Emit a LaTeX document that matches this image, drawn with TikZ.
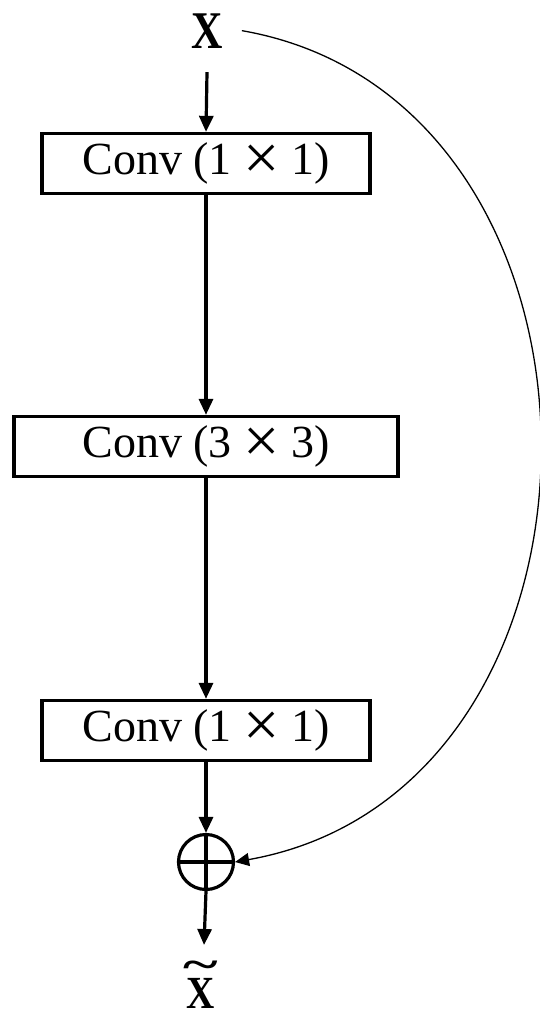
\documentclass[tikz,border=0pt]{standalone}
\usepackage{fontspec}
\usepackage{calc}
\setmainfont{Liberation Serif}
\usetikzlibrary{arrows.meta}
\newcommand{\bigtimes}{\raisebox{-4.5pt}{\scalebox{1.4}{×}}}
\newcommand{\widetil}[1]{\rlap{\raisebox{30pt}[0pt][0pt]{\makebox[\widthof{#1}]{\scalebox{1.7}[0.9]{\textasciitilde}}}}#1}
\begin{document}
\begin{tikzpicture}[x=1pt,y=-1pt,
  convbox/.style={draw, line width=3.3pt, inner sep=0pt, minimum height=60pt,
    font=\fontsize{46}{46}\selectfont},
  arr/.style={line width=3.2pt, -{Triangle[length=16pt,width=14pt]}},
  skip/.style={line width=1.3pt, -{Triangle[length=14pt,width=13pt]}}]
\useasboundingbox (0,0) rectangle (539,1013);
\node[inner sep=0pt, anchor=base, font=\fontsize{53}{53}\selectfont\bfseries] (X) at (207,48) {\scalebox{0.82}[1]{X}};
\node[convbox, minimum width=328pt] (b1) at (206,163.5) {Conv (1 \bigtimes{} 1)};
\node[convbox, minimum width=384pt] (b2) at (206,446.5) {Conv (3 \bigtimes{} 3)};
\node[convbox, minimum width=328pt] (b3) at (206,730.5) {Conv (1 \bigtimes{} 1)};
\node[draw, circle, line width=3.2pt, minimum size=55pt, inner sep=0pt] (sum) at (206,862) {};
\draw[line width=3.2pt] (sum.west) -- (sum.east);
\draw[line width=3.2pt] (sum.north) -- (sum.south);
\coordinate (out) at (204,945);
\node[inner sep=0pt, anchor=base, font=\fontsize{46}{46}\selectfont\bfseries] (Xt) at (201,1008) {\scalebox{0.85}[1]{\widetil{X}}};
\draw[arr] ([yshift=-24pt]X.south) -- (b1.north);
\draw[arr] (b1.south) -- (b2.north);
\draw[arr] (b2.south) -- (b3.north);
\draw[arr] (b3.south) -- (sum.north);
\draw[arr] (sum.south) -- (out);
\draw[skip] ([xshift=19pt]X.east) .. controls (640,100) and (640,790) .. (sum.east);
\end{tikzpicture}
\end{document}
